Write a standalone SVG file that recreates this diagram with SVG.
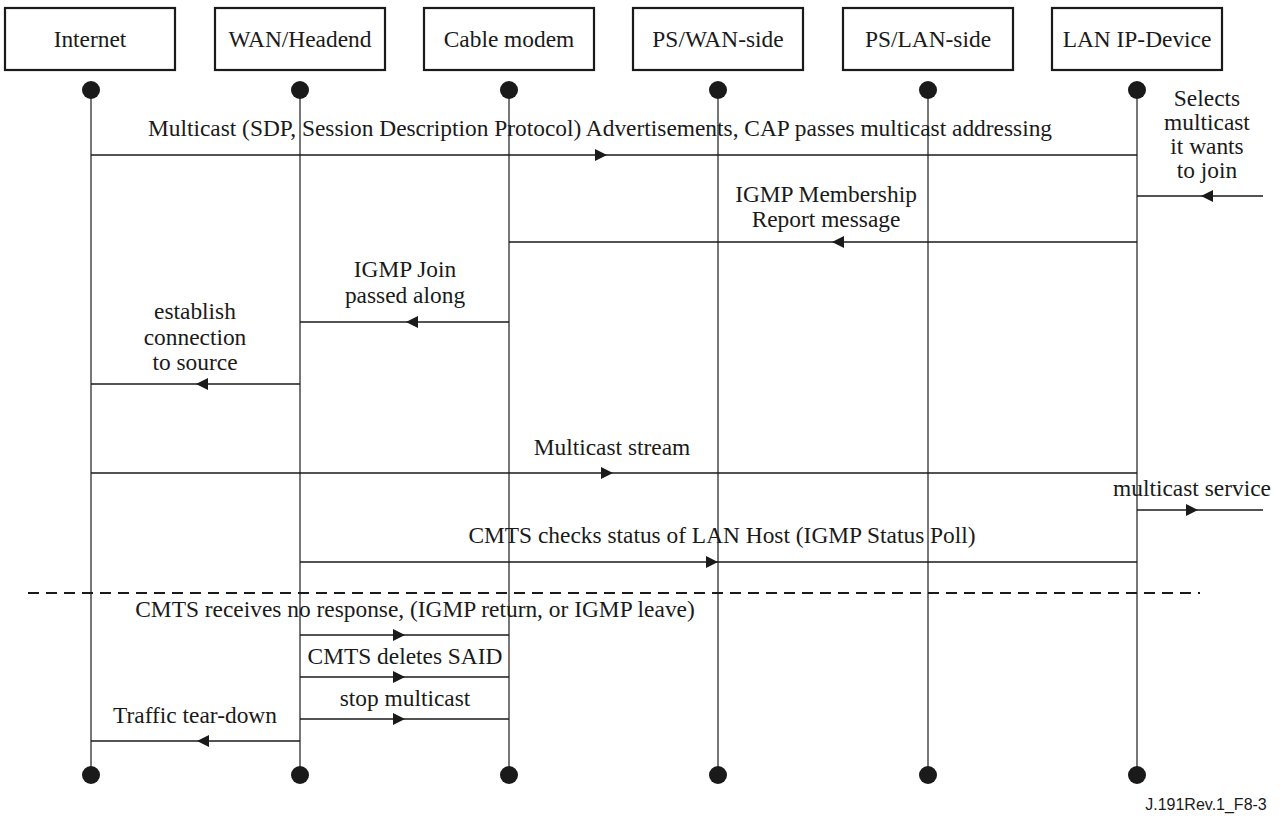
<svg xmlns="http://www.w3.org/2000/svg" width="1284" height="819" viewBox="0 0 1284 819">
<style>
.box{fill:#fff;stroke:#1a1a1a;stroke-width:2.2}
.lbl{font-family:"Liberation Serif","Times New Roman",serif;font-size:23.4px;fill:#1a1a1a;text-anchor:middle}
.life{stroke:#4a4a4a;stroke-width:1.5;fill:none}
.dot{fill:#1a1a1a}
.msg{stroke:#1a1a1a;stroke-width:1.3;fill:none;marker-mid:url(#ah)}
.dash{stroke:#1a1a1a;stroke-width:2;stroke-dasharray:11,7;fill:none}
.fig{font-family:"Liberation Sans",Arial,sans-serif;font-size:16px;fill:#1a1a1a;text-anchor:middle}
</style>
<defs>
<marker id="ah" markerUnits="userSpaceOnUse" markerWidth="14" markerHeight="14" refX="12" refY="6" orient="auto">
<path d="M0,0 L12,6 L0,12 z" fill="#1a1a1a"/>
</marker>
</defs>
<rect width="1284" height="819" fill="#fff"/>
<g id="lifelines">
<line class="life" x1="91" y1="90" x2="91" y2="775"/>
<line class="life" x1="300" y1="90" x2="300" y2="775"/>
<line class="life" x1="509" y1="90" x2="509" y2="775"/>
<line class="life" x1="718" y1="90" x2="718" y2="775"/>
<line class="life" x1="928" y1="90" x2="928" y2="775"/>
<line class="life" x1="1137" y1="90" x2="1137" y2="775"/>
</g>
<g id="n-internet">
<rect class="box" x="5" y="8" width="170" height="62"/>
<text class="lbl" x="90" y="47">Internet</text>
<circle class="dot" cx="91" cy="90" r="9"/><circle class="dot" cx="91" cy="775" r="9"/>
</g>
<g id="n-wan">
<rect class="box" x="215" y="8" width="170" height="62"/>
<text class="lbl" x="300" y="47">WAN/Headend</text>
<circle class="dot" cx="300" cy="90" r="9"/><circle class="dot" cx="300" cy="775" r="9"/>
</g>
<g id="n-cm">
<rect class="box" x="424" y="8" width="170" height="62"/>
<text class="lbl" x="509" y="47">Cable modem</text>
<circle class="dot" cx="509" cy="90" r="9"/><circle class="dot" cx="509" cy="775" r="9"/>
</g>
<g id="n-pswan">
<rect class="box" x="633" y="8" width="170" height="62"/>
<text class="lbl" x="718" y="47">PS/WAN-side</text>
<circle class="dot" cx="718" cy="90" r="9"/><circle class="dot" cx="718" cy="775" r="9"/>
</g>
<g id="n-pslan">
<rect class="box" x="843" y="8" width="170" height="62"/>
<text class="lbl" x="928" y="47">PS/LAN-side</text>
<circle class="dot" cx="928" cy="90" r="9"/><circle class="dot" cx="928" cy="775" r="9"/>
</g>
<g id="n-lanip">
<rect class="box" x="1052" y="8" width="170" height="62"/>
<text class="lbl" x="1137" y="47">LAN IP-Device</text>
<circle class="dot" cx="1137" cy="90" r="9"/><circle class="dot" cx="1137" cy="775" r="9"/>
</g>
<g id="connectors">
<path class="msg" d="M91,155 L607,155 L1137,155"/>
<path class="msg" d="M1263,196 L1201,196 L1137,196"/>
<path class="msg" d="M1137,242 L832,242 L509,242"/>
<path class="msg" d="M509,322 L406,322 L300,322"/>
<path class="msg" d="M300,384 L196,384 L91,384"/>
<path class="msg" d="M91,473 L613,473 L1137,473"/>
<path class="msg" d="M1137,510 L1198,510 L1263,510"/>
<path class="msg" d="M300,562 L718,562 L1137,562"/>
<line class="dash" x1="28" y1="593" x2="1200" y2="593"/>
<path class="msg" d="M300,635 L405,635 L509,635"/>
<path class="msg" d="M300,677 L405,677 L509,677"/>
<path class="msg" d="M300,719 L405,719 L509,719"/>
<path class="msg" d="M300,741 L197,741 L91,741"/>
</g>
<g id="labels">
<text class="lbl" x="600" y="136">Multicast (SDP, Session Description Protocol) Advertisements, CAP passes multicast addressing</text>
<text class="lbl" x="1207" y="106">Selects</text>
<text class="lbl" x="1207" y="130">multicast</text>
<text class="lbl" x="1207" y="154">it wants</text>
<text class="lbl" x="1207" y="178">to join</text>
<text class="lbl" x="826" y="202">IGMP Membership</text>
<text class="lbl" x="826" y="227">Report message</text>
<text class="lbl" x="405" y="277">IGMP Join</text>
<text class="lbl" x="405" y="303">passed along</text>
<text class="lbl" x="195" y="319">establish</text>
<text class="lbl" x="195" y="345">connection</text>
<text class="lbl" x="195" y="370">to source</text>
<text class="lbl" x="612" y="455">Multicast stream</text>
<text class="lbl" x="1192" y="496">multicast service</text>
<text class="lbl" x="722" y="543">CMTS checks status of LAN Host (IGMP Status Poll)</text>
<text class="lbl" x="415" y="617">CMTS receives no response, (IGMP return, or IGMP leave)</text>
<text class="lbl" x="405" y="664">CMTS deletes SAID</text>
<text class="lbl" x="405" y="706">stop multicast</text>
<text class="lbl" x="195" y="723">Traffic tear-down</text>
<text class="fig" x="1206" y="810">J.191Rev.1_F8-3</text>
</g>
</svg>
